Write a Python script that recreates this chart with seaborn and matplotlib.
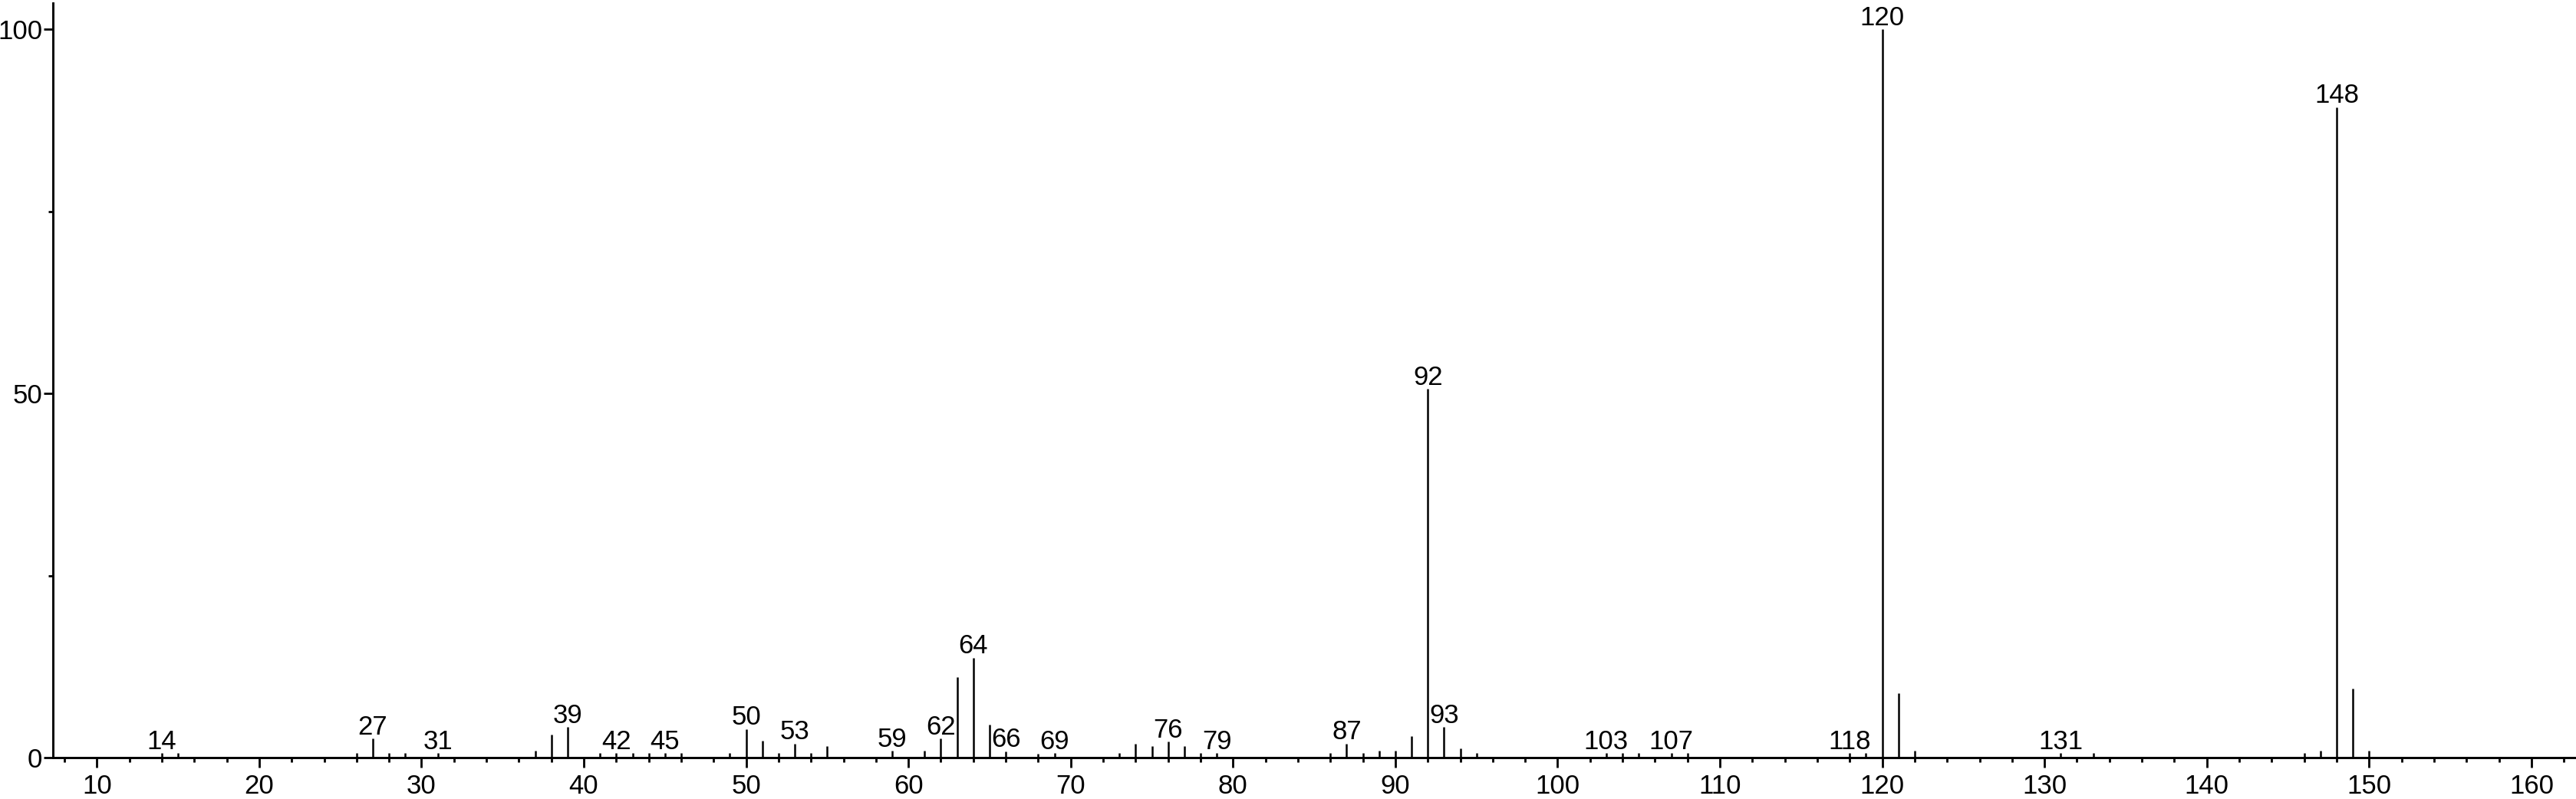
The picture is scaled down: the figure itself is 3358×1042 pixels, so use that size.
import matplotlib
matplotlib.use("Agg")
import matplotlib.pyplot as plt
from matplotlib import font_manager
from matplotlib.ticker import MultipleLocator, FixedLocator
import seaborn as sns
import pandas as pd

# ---- data (m/z, relative intensity) ----
mz = [14, 15, 26, 27, 28, 29, 31, 37, 38, 39, 41, 42, 43, 44, 45, 46, 49,
      50, 51, 52, 53, 54, 55, 59, 61, 62, 63, 64, 65, 66, 68, 69, 73, 74,
      75, 76, 77, 78, 79, 86, 87, 88, 89, 90, 91, 92, 93, 94, 95, 103, 104,
      105, 107, 108, 118, 119, 120, 121, 122, 131, 133, 146, 147, 148, 149, 150]
intensity = [0.6, 0.6, 0.6, 2.6, 0.6, 0.6, 0.6, 0.9, 3.2, 4.2, 0.6, 0.6, 0.6,
             0.6, 0.6, 0.6, 0.6, 3.9, 2.3, 0.6, 1.9, 0.6, 1.6, 0.9, 0.9, 2.6,
             11.1, 13.7, 4.5, 0.85, 0.5, 0.6, 0.6, 1.9, 1.6, 2.2, 1.6, 0.6,
             0.6, 0.6, 1.9, 0.6, 0.9, 0.9, 2.9, 50.6, 4.2, 1.3, 0.6, 0.6, 0.6,
             0.6, 0.6, 0.6, 0.6, 0.6, 100.0, 8.8, 0.9, 0.6, 0.6, 0.6, 0.95,
             89.3, 9.5, 0.95]
labeled_mz = [14, 27, 31, 39, 42, 45, 50, 53, 59, 62, 64, 66, 69, 76, 79, 87,
              92, 93, 103, 107, 118, 120, 131, 148]
x_ticks = [10, 20, 30, 40, 50, 60, 70, 80, 90, 100, 110, 120, 130, 140, 150, 160]
y_ticks = [0, 50, 100]

df = pd.DataFrame({"mz": mz, "intensity": intensity})

sns.set_theme(style="ticks")
names = {f.name for f in font_manager.fontManager.ttflist}
fam = "Liberation Sans Narrow" if "Liberation Sans Narrow" in names else "Liberation Sans"
plt.rcParams["font.family"] = [fam, "DejaVu Sans"]

W, H = 3358, 1042
fig = plt.figure(figsize=(W / 100, H / 100), dpi=100)
ax = fig.add_axes([69 / W, 1 - 988 / H, (3357 - 69) / W, (988 - 4) / H])

ax.vlines(df["mz"], 0, df["intensity"], color="black", linewidth=1.8)

for m, h in zip(df["mz"], df["intensity"]):
    if m in labeled_mz:
        ax.annotate(str(m), xy=(m, h), xytext=(0, 4), textcoords="offset points",
                    ha="center", va="baseline", fontsize=25, color="black",
                    annotation_clip=False)

ax.set_xlim(7.29, 162.7)
ax.set_ylim(0, 103.6)
ax.xaxis.set_major_locator(FixedLocator(x_ticks))
ax.xaxis.set_minor_locator(MultipleLocator(2))
ax.yaxis.set_major_locator(FixedLocator(y_ticks))
ax.yaxis.set_minor_locator(FixedLocator([25, 75]))

ax.tick_params(axis="both", which="major", direction="out", length=9, width=2,
               color="black", labelsize=25, labelcolor="black")
ax.tick_params(axis="x", which="major", pad=6)
ax.tick_params(axis="y", which="major", pad=1)
ax.tick_params(axis="both", which="minor", direction="out", length=4.5, width=2,
               color="black")

sns.despine(ax=ax)
for s in ["left", "bottom"]:
    ax.spines[s].set_linewidth(2.1)
    ax.spines[s].set_color("black")
ax.set_xlabel("")
ax.set_ylabel("")
ax.grid(False)

fig.savefig("out.png", dpi=100, facecolor="white")
